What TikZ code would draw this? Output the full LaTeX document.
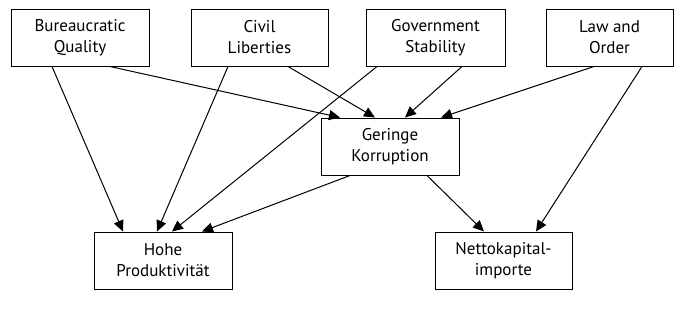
\documentclass[tikz,border=0pt]{standalone}
\usepackage{fontspec}
\setmainfont{PT Sans}
\usetikzlibrary{arrows.meta}
\tikzset{
	factor/.style={%
		draw, line width=1pt,
		minimum width=#1,
		minimum height=57pt,
		align=center,
		font=\fontsize{17}{21}\selectfont
	},
	factor/.default=138pt,
	link/.style={->, line width=1pt},
	>={Triangle[length=11pt,width=10pt]}
}
\begin{document}
\begin{tikzpicture}[x=1pt,y=-1pt]
		\useasboundingbox (0,0) rectangle (674,325);
		
		% top row
		\node[factor] (bureau) at (80,37.5) {Bureaucratic\\Quality};
		\node[factor=137pt] (civil) at (259.5,37.5) {Civil\\Liberties};
		\node[factor=139pt] (govstab) at (435.5,37.5) {Government\\Stability};
		\node[factor=127pt] (laworder) at (609.5,37.5) {Law and\\Order};
		
		% middle and bottom
		\node[factor] (korrupt) at (390,146.5) {Geringe\\Korruption};
		\node[factor] (produkt) at (163,260.5) {Hohe\\Produktivität};
		\node[factor=137pt] (kapital) at (503.5,260.5) {Nettokapital-\\importe};
		
		%arrows into the lower boxes
		\draw[link] ([xshift=-28pt]bureau.south) -- ([xshift=-40pt]produkt.north);
		\draw[link] ([xshift=30pt]bureau.south) -- ([xshift=-50pt]korrupt.north);
		\draw[link] ([xshift=-31.5pt]civil.south) -- ([xshift=-6pt]produkt.north);
		\draw[link] ([xshift=28.5pt]civil.south) -- ([xshift=-15pt]korrupt.north);
		\draw[link] ([xshift=-58.5pt]govstab.south) -- ([xshift=9pt]produkt.north);
		\draw[link] ([xshift=26.5pt]govstab.south) -- ([xshift=15pt]korrupt.north);
		\draw[link] ([xshift=-15.5pt]laworder.south) -- ([xshift=51pt]korrupt.north);
		\draw[link] ([xshift=32.5pt]laworder.south) -- ([xshift=32.5pt]kapital.north);
		
		\draw[link] ([xshift=-40pt]korrupt.south) -- ([xshift=39pt]produkt.north);
		\draw[link] ([xshift=37pt]korrupt.south) -- ([xshift=-19.5pt]kapital.north);
		
\end{tikzpicture}
\end{document}
